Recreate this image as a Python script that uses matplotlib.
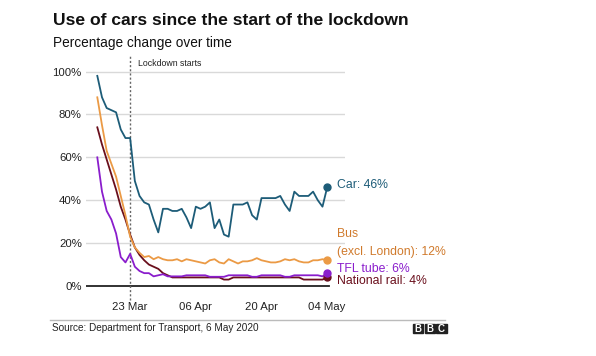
import numpy as np
import matplotlib
matplotlib.use('Agg')
import matplotlib.pyplot as plt
from matplotlib.patches import Rectangle

plt.rcParams['font.family'] = ['Liberation Sans', 'DejaVu Sans']

# daily values, 16 Mar to 04 May 2020 (% of normal)
car = [98, 88, 83, 82, 81, 73, 69, 69, 49, 42, 39, 38, 31, 25, 36, 36, 35, 35, 36, 32,
       27, 37, 36, 37, 39, 27, 31, 24, 23, 38, 38, 38, 39, 33, 31, 41, 41, 41, 41, 42,
       38, 35, 44, 42, 42, 42, 44, 40, 37, 46]
bus = [88, 75, 63, 57, 51, 42, 33, 23, 18, 15.5, 13.5, 14, 12.5, 13.5, 12.5, 12,
       12, 12.5, 11.5, 12.5, 12, 11.5, 11, 10.5, 12, 12.5, 11, 10.5, 12.5, 11.5,
       10.5, 11.5, 11.5, 12, 13, 12, 11.5, 11, 11, 11.5, 12.5, 12, 12.5, 11.5, 11,
       11, 12, 12, 12.5, 12]
tube = [60, 44, 35, 31, 24.5, 13.5, 11, 15, 9, 7, 6, 6, 4.5, 5, 5.5, 4.5,
        4.5, 4.5, 4.5, 5, 5, 5, 5, 5, 4.3, 4.3, 4.3, 4.3, 5, 5, 5, 5, 5, 4.3, 4.3,
        5, 5, 5, 5, 5, 4.3, 4.3, 5, 5, 5, 5, 5, 5, 4.5, 6]
rail = [74, 66, 59, 52, 45, 37, 31, 24, 18, 14.5, 12, 10, 9, 8, 6, 5,
        4, 4, 4, 4, 4, 4, 4, 4, 4, 4, 4, 3, 3, 4, 4, 4, 4, 4, 4, 4, 4, 4, 4, 4,
        4, 4, 4, 4, 3, 3, 3, 3, 3, 4]

tick_days = [7, 21, 35, 49]
tick_labels = ['23 Mar', '06 Apr', '20 Apr', '04 May']
lockdown_day = 7

c_car = '#1d5c78'
c_bus = '#eb9a45'
c_tube = '#8a1dcc'
c_rail = '#6a0f1c'

days = np.arange(len(car))

fig = plt.figure(figsize=(5.96, 3.56), dpi=100)
ax = fig.add_axes([86 / 596, 66 / 356, 259 / 596, 230 / 356])
ax.set_xlim(-2.41, 52.8)
ax.set_ylim(-1.86, 105.4)

for v in [20, 40, 60, 80, 100]:
    ax.axhline(v, color='#d9d9d9', lw=1, zorder=0)
ax.plot([-2.41, 49.3], [0, 0], color='#222222', lw=1.3, zorder=1)

ax.plot([lockdown_day, lockdown_day], [-6.5, 107.7], color='#666666', lw=1,
        ls=(0, (1.5, 1.5)), clip_on=False, zorder=1)
ax.text(lockdown_day + 1.6, 103.8, 'Lockdown starts', fontsize=6.3,
        color='#222222', va='center')

for vals, col in [(rail, c_rail), (tube, c_tube), (bus, c_bus), (car, c_car)]:
    ax.plot(days, vals, color=col, lw=1.3, zorder=3)
    ax.plot(days[-1], vals[-1], 'o', color=col, ms=5, zorder=4, clip_on=False)

ax.text(51.0, 47.1, 'Car: 46%', color=c_car, fontsize=8.8, va='center')
ax.text(51.0, 24.2, 'Bus', color='#d07a2c', fontsize=8.8, va='center')
ax.text(51.0, 16.0, '(excl. London): 12%', color='#d07a2c', fontsize=8.8, va='center')
ax.text(51.0, 7.9, 'TFL tube: 6%', color=c_tube, fontsize=8.8, va='center')
ax.text(51.0, 2.5, 'National rail: 4%', color=c_rail, fontsize=8.8, va='center')

ax.set_yticks([0, 20, 40, 60, 80, 100])
ax.set_yticklabels(['0%', '20%', '40%', '60%', '80%', '100%'])
ax.set_xticks(tick_days)
ax.set_xticklabels(tick_labels)
ax.tick_params(axis='y', length=0, pad=3, labelsize=8.2, labelcolor='#222222')
ax.tick_params(axis='x', length=0, pad=9, labelsize=8.2, labelcolor='#222222')
for s in ax.spines.values():
    s.set_visible(False)
ax.grid(False)

fig.text(53 / 596, 1 - 25 / 356, 'Use of cars since the start of the lockdown',
         fontsize=12.6, fontweight='bold', va='baseline', color='#111111')
fig.text(53 / 596, 1 - 46.7 / 356, 'Percentage change over time',
         fontsize=9.8, va='baseline', color='#111111')

fig.add_artist(plt.Line2D([50 / 596, 445 / 596], [1 - 319.5 / 356, 1 - 319.5 / 356],
                          color='#bbbbbb', lw=1))
fig.text(52 / 596, 1 - 328.3 / 356, 'Source: Department for Transport, 6 May 2020',
         fontsize=7.2, va='center', color='#222222')

# BBC blocks
for i, ch in enumerate('BBC'):
    x0 = 413 + i * 11.7
    fig.add_artist(Rectangle((x0 / 596, 1 - 333 / 356), 10.3 / 596, 9.5 / 356,
                             color='#222222', transform=fig.transFigure))
    fig.text((x0 + 5.15) / 596, 1 - 328.5 / 356, ch, color='white', fontsize=7,
             fontweight='bold', ha='center', va='center')

fig.savefig('out.png', dpi=100, facecolor='white')
